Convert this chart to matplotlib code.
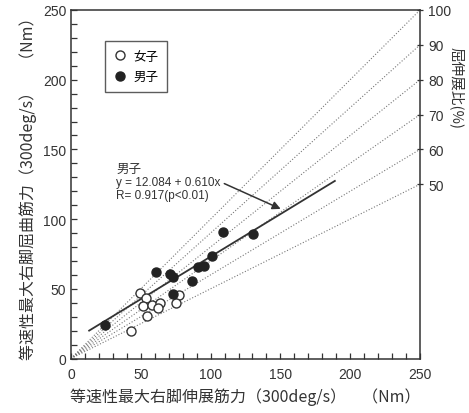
import matplotlib
matplotlib.use("Agg")
import matplotlib.pyplot as plt
import numpy as np
from matplotlib.ticker import MultipleLocator

plt.rcParams["font.family"] = ["Liberation Sans", "Noto Sans CJK JP", "DejaVu Sans"]

# Data
girls_ext = [49.5, 53.5, 51.8, 57.8, 63.8, 62.2, 54.1, 43.0, 77.4, 75.3]
girls_flex = [46.7, 43.2, 37.8, 38.4, 39.8, 36.0, 30.8, 19.9, 45.5, 40.1]
boys_ext = [24.4, 60.7, 71.0, 73.1, 86.4, 73.3, 91.3, 95.3, 101.1, 109.2, 130.7]
boys_flex = [24.2, 62.2, 60.6, 58.4, 55.8, 46.2, 65.8, 66.5, 73.7, 90.9, 89.2]
ratios = [50, 60, 70, 80, 90, 100]  # flexion/extension ratio (%)
intercept, slope = 12.084, 0.610
fit_range = [13, 189]

ink = "#333333"
fig = plt.figure(figsize=(4.69, 4.14), dpi=100)
ax = fig.add_axes([71 / 469, 1 - 359.5 / 414, 349 / 469, 348.5 / 414])

# ratio reference lines from the origin
for r in ratios:
    ax.plot([0, 250], [0, 250 * r / 100], linestyle=":", color="#777777",
            linewidth=0.8, zorder=1)

# regression line for boys
xf = np.array(fit_range)
ax.plot(xf, intercept + slope * xf, color=ink, linewidth=1.3, zorder=2)

ax.plot(girls_ext, girls_flex, "o", ms=6.5, mfc="white", mec=ink, mew=1.0,
        label="女子", zorder=3)
ax.plot(boys_ext, boys_flex, "o", ms=6.5, mfc="#222222", mec="#222222",
        label="男子", zorder=4)

ax.set_xlim(0, 250)
ax.set_ylim(0, 250)
ax.xaxis.set_major_locator(MultipleLocator(50))
ax.xaxis.set_minor_locator(MultipleLocator(10))
ax.yaxis.set_major_locator(MultipleLocator(50))
ax.yaxis.set_minor_locator(MultipleLocator(10))
ax.tick_params(which="both", direction="in", length=4, width=0.9, color=ink,
               labelsize=10, labelcolor=ink, top=False, right=False)
ax.tick_params(axis="x", pad=6)
for s in ax.spines.values():
    s.set_color(ink)
    s.set_linewidth(1.1)

ax.set_xlabel("等速性最大右脚伸展筋力（300deg/s）　（Nm）", fontsize=11.5,
              family=["Noto Sans CJK JP"], color=ink, labelpad=5)
ax.set_ylabel("等速性最大右脚屈曲筋力（300deg/s）　（Nm）", fontsize=11.5,
              family=["Noto Sans CJK JP"], color=ink, labelpad=4)

# right axis showing ratio
ax2 = ax.twinx()
ax2.set_ylim(0, 250)
ax2.set_yticks([2.5 * r for r in ratios])
ax2.set_yticklabels([str(r) for r in ratios])
ax2.tick_params(direction="inout", length=5, width=0.9, color=ink,
                labelsize=10, labelcolor=ink)
for s in ax2.spines.values():
    s.set_visible(False)
ax2.set_ylabel("屈伸展比(%)", rotation=270, fontsize=10.5,
               family=["Noto Sans CJK JP"], color=ink, va="center")
ax2.yaxis.set_label_coords(1.106, 0.78)

# legend
leg = ax.legend(loc="upper left", bbox_to_anchor=(0.097, 0.911),
                borderaxespad=0, frameon=True, fancybox=False,
                edgecolor=ink, handletextpad=0.6, labelspacing=0.6,
                borderpad=0.7, handlelength=1.0,
                prop={"family": ["Noto Sans CJK JP"], "size": 9})
leg.get_frame().set_linewidth(1.0)

# regression annotation
ax.text(32.5, 136, "男子", fontsize=9, color=ink, family=["Noto Sans CJK JP"],
        va="center")
ax.text(32.5, 126.5, f"y = {intercept:.3f} + {slope:.3f}x", fontsize=8.5,
        color=ink, va="center")
ax.text(32.5, 117.5, "R= 0.917(p<0.01)", fontsize=8.5, color=ink,
        va="center")
ax.annotate("", xy=(152, 106.5), xytext=(108, 126.3),
            arrowprops=dict(arrowstyle="-|>", color=ink, lw=1.1,
                            mutation_scale=12))

fig.savefig("out.png", dpi=100)
